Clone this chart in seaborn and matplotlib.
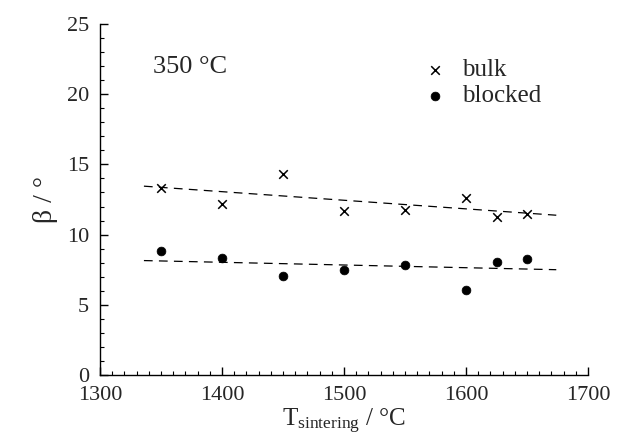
import numpy as np
import pandas as pd
import seaborn as sns
import matplotlib.pyplot as plt
from matplotlib.ticker import MultipleLocator

# data
t_sinter = [1350, 1400, 1450, 1500, 1550, 1600, 1625, 1650]
beta_bulk = [13.3, 12.2, 14.35, 11.65, 11.75, 12.6, 11.25, 11.45]
beta_blocked = [8.85, 8.3, 7.05, 7.5, 7.8, 6.05, 8.05, 8.25]

# dashed trend lines (end points)
fit_x = [1336, 1674]
fit_bulk = [13.45, 11.38]
fit_blocked = [8.15, 7.5]

sns.set_style("ticks")
plt.rcParams["font.family"] = ["Liberation Serif", "DejaVu Serif"]
plt.rcParams["mathtext.fontset"] = "custom"
plt.rcParams["mathtext.rm"] = "Liberation Serif"
plt.rcParams["mathtext.it"] = "Liberation Serif"

df = pd.DataFrame({
    "T": t_sinter * 2,
    "beta": beta_bulk + beta_blocked,
    "kind": ["bulk"] * len(t_sinter) + ["blocked"] * len(t_sinter),
})
fits = pd.DataFrame({
    "T": fit_x * 2,
    "beta": fit_bulk + fit_blocked,
    "kind": ["bulk"] * 2 + ["blocked"] * 2,
})

fig = plt.figure(figsize=(6.42, 4.44), dpi=100)
ax = fig.add_axes([100 / 642, 69 / 444, 488 / 642, 351 / 444])

for kind in ["bulk", "blocked"]:
    sns.lineplot(data=fits[fits["kind"] == kind], x="T", y="beta", ax=ax,
                 color="black", lw=0.9, dashes=(7, 5), legend=False)

sns.scatterplot(data=df[df["kind"] == "bulk"], x="T", y="beta", ax=ax,
                marker="x", s=38, color="black", linewidth=1.1, label="bulk")
sns.scatterplot(data=df[df["kind"] == "blocked"], x="T", y="beta", ax=ax,
                marker="o", s=40, color="black", edgecolor="black", label="blocked")

ax.set_xlim(1300, 1700)
ax.set_ylim(0, 25)
ax.xaxis.set_major_locator(MultipleLocator(100))
ax.xaxis.set_minor_locator(MultipleLocator(10))
ax.yaxis.set_major_locator(MultipleLocator(5))
ax.yaxis.set_minor_locator(MultipleLocator(1))
ax.tick_params(which="major", direction="in", length=6, width=1, labelsize=16, pad=8, color="black")
ax.tick_params(which="minor", direction="in", length=3, width=0.8, color="black")
sns.despine(ax=ax)
for sp in ["left", "bottom"]:
    ax.spines[sp].set_color("black")
    ax.spines[sp].set_linewidth(1)

ax.set_xlabel(r"T$_\mathrm{sintering}$ / °C", fontsize=18, labelpad=1)
ax.set_ylabel("β / °", fontsize=20, labelpad=6)

ax.text(0.109, 0.877, "350 °C", transform=ax.transAxes, fontsize=19, va="center", ha="left")

ax.legend(loc="upper left", bbox_to_anchor=(0.64, 0.93), frameon=False, fontsize=18,
          handletextpad=0.6, labelspacing=0.15, borderaxespad=0, handlelength=1.0)

fig.savefig("out.png", dpi=100)
